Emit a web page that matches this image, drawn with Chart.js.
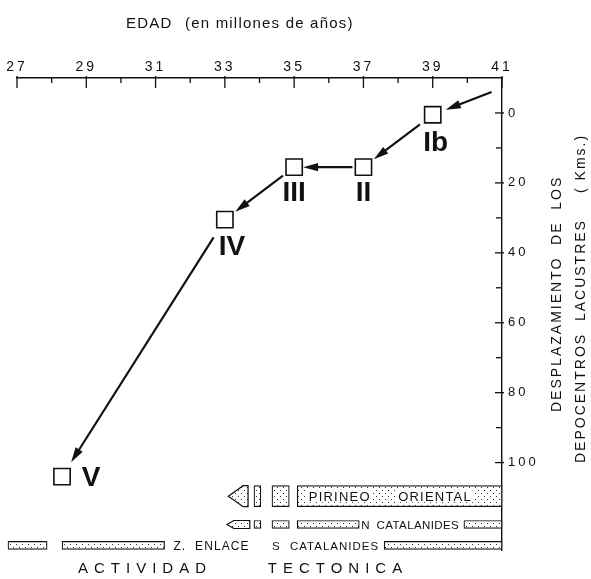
<!DOCTYPE html>
<html><head><meta charset="utf-8">
<script src="https://cdn.jsdelivr.net/npm/chart.js@4/dist/chart.umd.min.js"></script>
<style>html,body{margin:0;padding:0;background:#fff;}canvas{display:block;}</style>
</head><body>
<canvas id="c" width="591" height="579"></canvas>
<script>
// ---------------- data ----------------
const stageLabels = ['Ib', 'II', 'III', 'IV', 'V'];
const stageAges = [39, 37, 35, 33, 28.3];                 // EDAD (Ma)
const stageDisplacement = [0.5, 15.5, 15.5, 30.5, 104];  // Kms
const incomingAge = 40.7;           // start of the arrow entering Ib
const incomingDisplacement = -6;
const xTickValues = [27, 29, 31, 33, 35, 37, 39, 41];
const xMinorValues = [28, 30, 32, 34, 36, 38, 40];
const yTickValues = [0, 20, 40, 60, 80, 100];
const yMinorValues = [10, 30, 50, 70, 90];

// Actividad tectonica (intervals in Ma)
const pirineoIntervals = [[33.84, 34.04], [34.36, 34.86], [35.09, 41]];
const pirineoPointed = [33.1, 33.67];
const nCatalanidesIntervals = [[33.84, 34.04], [34.36, 34.86], [35.09, 36.88], [39.9, 41]];
const nCatalanidesPointed = [33.06, 33.72];
const sCatalanidesIntervals = [[26.74, 27.87], [28.3, 31.26], [37.6, 41]];

// ---------------- layout / style ----------------
const FONT = '"Liberation Sans", Arial, Helvetica, sans-serif';
const INK = '#111';
const ROW = { pirineo: 109.6, n: 117.7, s: 123.7 };   // row centres on the displacement scale
const ROW_H = { pirineo: 21, n: 8, s: 8 };
const LABEL_OFF = [[3, 29], [0, 26], [0, 26], [7, 28], [29, 2]];
const GAP_START = [16, 11, 14, 21];
const GAP_END = [13, 9, 13, 17];

const canvas = document.getElementById('c');
const ctx0 = canvas.getContext('2d');

function dotPattern() {
  const p = document.createElement('canvas');
  p.width = 6; p.height = 6;
  const g = p.getContext('2d');
  g.fillStyle = '#fff'; g.fillRect(0, 0, 6, 6);
  g.fillStyle = '#333';
  g.fillRect(1, 1, 1, 1); g.fillRect(4, 4, 1, 1);
  return ctx0.createPattern(p, 'repeat');
}
const PAT = dotPattern();

function barSet(intervals, row) {
  return {
    type: 'bar', indexAxis: 'y', xAxisID: 'x', yAxisID: 'y',
    data: intervals.map(r => ({ x: r, y: ROW[row] })),
    barThickness: ROW_H[row], backgroundColor: PAT, borderColor: INK,
    borderWidth: 1.2, borderSkipped: false, stack: 'rows', clip: false, order: 2
  };
}

function spaced(ctx, text, x, y, sp, align) {
  ctx.letterSpacing = sp + 'px';
  let w = ctx.measureText(text).width - sp;
  let sx = x;
  if (align === 'center') sx = x - w / 2;
  else if (align === 'right') sx = x - w;
  ctx.textAlign = 'left';
  ctx.fillText(text, sx, y);
  ctx.letterSpacing = '0px';
  return w;
}

function arrow(ctx, x1, y1, x2, y2) {
  const a = Math.atan2(y2 - y1, x2 - x1), L = 15, W = 4.2;
  const bx = x2 - L * Math.cos(a), by = y2 - L * Math.sin(a);
  ctx.beginPath();
  ctx.moveTo(x1, y1); ctx.lineTo(bx + 2 * Math.cos(a), by + 2 * Math.sin(a));
  ctx.stroke();
  ctx.beginPath();
  ctx.moveTo(x2, y2);
  ctx.lineTo(bx - W * Math.sin(a), by + W * Math.cos(a));
  ctx.lineTo(bx + W * Math.sin(a), by - W * Math.cos(a));
  ctx.closePath(); ctx.fill();
}

function pointed(ctx, x, y, row, range, tip) {
  const xl = x.getPixelForValue(range[0]), xr = x.getPixelForValue(range[1]);
  const yc = y.getPixelForValue(ROW[row]), h = ROW_H[row];
  const t = (xr - xl) * tip;
  ctx.beginPath();
  ctx.moveTo(xl, yc);
  ctx.lineTo(xl + t, yc - h / 2);
  ctx.lineTo(xr, yc - h / 2);
  ctx.lineTo(xr, yc + h / 2);
  ctx.lineTo(xl + t, yc + h / 2);
  ctx.closePath();
  ctx.fillStyle = PAT; ctx.fill();
  ctx.lineWidth = 1.2; ctx.strokeStyle = INK; ctx.stroke();
}

const decor = {
  id: 'decor',
  beforeDraw(chart) { chart.ctx.letterSpacing = '3px'; },
  afterDraw(chart) {
    const ctx = chart.ctx, x = chart.scales.x, y = chart.scales.y;
    const ca = chart.chartArea;
    ctx.save();
    ctx.letterSpacing = '0px';
    ctx.strokeStyle = INK; ctx.fillStyle = INK; ctx.lineWidth = 1.3;
    // x ticks
    xTickValues.forEach(v => { const px = x.getPixelForValue(v); ctx.beginPath(); ctx.moveTo(px, ca.top - 2); ctx.lineTo(px, ca.top + 10); ctx.stroke(); });
    xMinorValues.forEach(v => { const px = x.getPixelForValue(v); ctx.beginPath(); ctx.moveTo(px, ca.top); ctx.lineTo(px, ca.top + 5); ctx.stroke(); });
    // y ticks
    yTickValues.forEach(v => { const py = y.getPixelForValue(v); ctx.beginPath(); ctx.moveTo(ca.right - 7, py); ctx.lineTo(ca.right + 2, py); ctx.stroke(); });
    yMinorValues.forEach(v => { const py = y.getPixelForValue(v); ctx.beginPath(); ctx.moveTo(ca.right - 6, py); ctx.lineTo(ca.right, py); ctx.stroke(); });

    // arrows
    ctx.lineWidth = 2.2;
    const P = stageAges.map((a, i) => [x.getPixelForValue(a), y.getPixelForValue(stageDisplacement[i])]);
    const s0 = [x.getPixelForValue(incomingAge), y.getPixelForValue(incomingDisplacement)];
    {
      const dx = P[0][0] - s0[0], dy = P[0][1] - s0[1], d = Math.hypot(dx, dy);
      arrow(ctx, s0[0], s0[1], P[0][0] - dx / d * 14, P[0][1] - dy / d * 14);
    }
    for (let i = 0; i < P.length - 1; i++) {
      const dx = P[i + 1][0] - P[i][0], dy = P[i + 1][1] - P[i][1], d = Math.hypot(dx, dy);
      arrow(ctx, P[i][0] + dx / d * GAP_START[i], P[i][1] + dy / d * GAP_START[i],
        P[i + 1][0] - dx / d * GAP_END[i], P[i + 1][1] - dy / d * GAP_END[i]);
    }
    // stage labels
    ctx.font = 'bold 28px ' + FONT; ctx.textBaseline = 'middle'; ctx.textAlign = 'center';
    P.forEach((p, i) => ctx.fillText(stageLabels[i], p[0] + LABEL_OFF[i][0], p[1] + LABEL_OFF[i][1]));

    // pointed bar ends
    pointed(ctx, x, y, 'pirineo', pirineoPointed, 0.75);
    pointed(ctx, x, y, 'n', nCatalanidesPointed, 0.3);

    // row texts
    ctx.fillStyle = INK; ctx.textBaseline = 'middle';
    ctx.font = '13px ' + FONT;
    const yp = y.getPixelForValue(ROW.pirineo), yn = y.getPixelForValue(ROW.n), ys = y.getPixelForValue(ROW.s);
    [['PIRINEO', 36.3], ['ORIENTAL', 39.05]].forEach(([t, a]) => {
      ctx.letterSpacing = '1.2px';
      const w = ctx.measureText(t).width;
      ctx.letterSpacing = '0px';
      const cx = x.getPixelForValue(a);
      ctx.fillStyle = '#fff'; ctx.fillRect(cx - w / 2 - 2, yp - 6, w + 4, 12);
      ctx.fillStyle = INK; spaced(ctx, t, cx, yp + 1, 1.2, 'center');
    });
    ctx.font = '11.5px ' + FONT;
    spaced(ctx, 'N', x.getPixelForValue(36.94), yn + 1, 0, 'left');
    spaced(ctx, 'CATALANIDES', x.getPixelForValue(37.38), yn + 1, 0.4, 'left');
    spaced(ctx, 'S', x.getPixelForValue(34.36), ys + 1, 0, 'left');
    spaced(ctx, 'CATALANIDES', x.getPixelForValue(34.88), ys + 1, 1.0, 'left');
    ctx.font = '12px ' + FONT;
    spaced(ctx, 'Z.  ENLACE', x.getPixelForValue(32.6), ys + 1, 1.1, 'center');
    ctx.font = '15px ' + FONT;
    spaced(ctx, 'ACTIVIDAD', 142, 569, 6, 'center');
    spaced(ctx, 'TECTONICA', 335, 569, 6, 'center');

    // axis titles
    ctx.font = '15px ' + FONT;
    spaced(ctx, 'EDAD', 126, 24, 1.2, 'left');
    spaced(ctx, '(en millones de años)', 185, 24, 1.2, 'left');
    ctx.font = '14px ' + FONT;
    ctx.save(); ctx.translate(557, 412); ctx.rotate(-Math.PI / 2);
    spaced(ctx, 'DESPLAZAMIENTO  DE  LOS', 0, 0, 2, 'left'); ctx.restore();
    ctx.save(); ctx.translate(581, 463); ctx.rotate(-Math.PI / 2);
    spaced(ctx, 'DEPOCENTROS  LACUSTRES', 0, 0, 2, 'left'); ctx.restore();
    ctx.save(); ctx.translate(581, 193); ctx.rotate(-Math.PI / 2);
    spaced(ctx, '( Kms.)', 0, 0, 2, 'left'); ctx.restore();
    ctx.restore();
  }
};

new Chart(canvas, {
  type: 'scatter',
  data: {
    datasets: [
      {
        type: 'scatter', label: 'Depocentros', xAxisID: 'x', yAxisID: 'y',
        data: stageAges.map((a, i) => ({ x: a, y: stageDisplacement[i] })),
        pointStyle: 'rect', pointRadius: 11.5, pointHoverRadius: 11.5,
        borderColor: INK, backgroundColor: '#fff', borderWidth: 1.6, order: 1
      },
      barSet(pirineoIntervals, 'pirineo'),
      barSet(nCatalanidesIntervals, 'n'),
      barSet(sCatalanidesIntervals, 's')
    ]
  },
  options: {
    responsive: false, animation: false, devicePixelRatio: 1,
    layout: { padding: { left: 17, top: 38, right: 0, bottom: 29 } },
    plugins: { legend: { display: false }, tooltip: { enabled: false }, title: { display: false } },
    events: [],
    scales: {
      x: {
        type: 'linear', position: 'top', min: 27, max: 41, stacked: false, offset: false, beginAtZero: false,
        afterBuildTicks: s => { s.ticks = xTickValues.map(v => ({ value: v })); },
        afterFit: s => { s.height = 40; },
        grid: { display: false, drawTicks: false, tickLength: 0, offset: false },
        border: { display: true, color: INK, width: 1.4 },
        ticks: { autoSkip: false, maxRotation: 0, padding: 2, color: INK, font: { family: FONT, size: 14 } }
      },
      y: {
        type: 'linear', position: 'right', reverse: true, min: -10, max: 125, offset: false, beginAtZero: false,
        afterBuildTicks: s => { s.ticks = yTickValues.map(v => ({ value: v })); },
        afterFit: s => { s.width = 89; },
        grid: { display: false, drawTicks: false, tickLength: 0, offset: false },
        border: { display: true, color: INK, width: 1.4 },
        ticks: { autoSkip: false, padding: 6, color: INK, font: { family: FONT, size: 13 } }
      }
    }
  },
  plugins: [decor]
});
</script>
</body></html>
